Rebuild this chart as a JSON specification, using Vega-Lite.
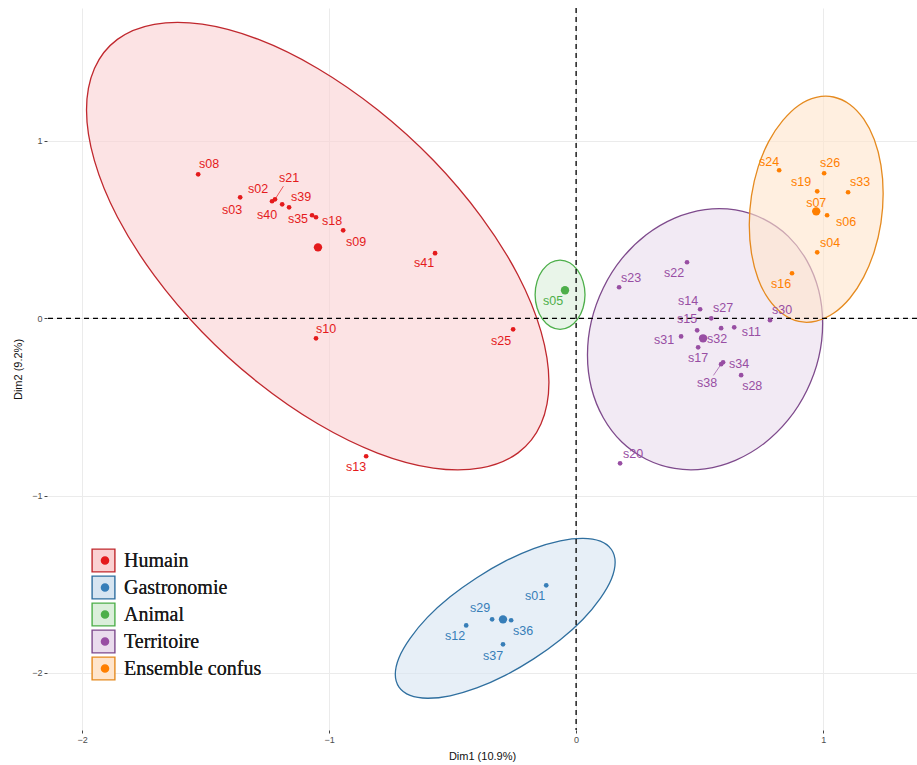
{
"$schema":"https://vega.github.io/schema/vega-lite/v6.json",
"width":870,"height":722,
"autosize":{"type":"none"},
"padding":{"left":47,"top":8,"right":0,"bottom":35},
"background":"#ffffff",
"config":{"view":{"stroke":null},"font":"Liberation Sans"},
"datasets":{
"ellipses":[
{"grp":"Humain","i":0,"x":-0.110,"y":-0.361},{"grp":"Humain","i":1,"x":-0.142,"y":-0.595},{"grp":"Humain","i":2,"x":-0.235,"y":-0.759},{"grp":"Humain","i":3,"x":-0.384,"y":-0.844},{"grp":"Humain","i":4,"x":-0.578,"y":-0.845},{"grp":"Humain","i":5,"x":-0.804,"y":-0.760},{"grp":"Humain","i":6,"x":-1.046,"y":-0.595},{"grp":"Humain","i":7,"x":-1.288,"y":-0.362},{"grp":"Humain","i":8,"x":-1.514,"y":-0.077},{"grp":"Humain","i":9,"x":-1.708,"y":0.242},{"grp":"Humain","i":10,"x":-1.857,"y":0.571},{"grp":"Humain","i":11,"x":-1.950,"y":0.889},{"grp":"Humain","i":12,"x":-1.982,"y":1.175},{"grp":"Humain","i":13,"x":-1.950,"y":1.409},{"grp":"Humain","i":14,"x":-1.857,"y":1.573},{"grp":"Humain","i":15,"x":-1.708,"y":1.658},{"grp":"Humain","i":16,"x":-1.514,"y":1.659},{"grp":"Humain","i":17,"x":-1.288,"y":1.574},{"grp":"Humain","i":18,"x":-1.046,"y":1.409},{"grp":"Humain","i":19,"x":-0.804,"y":1.176},{"grp":"Humain","i":20,"x":-0.578,"y":0.891},{"grp":"Humain","i":21,"x":-0.384,"y":0.572},{"grp":"Humain","i":22,"x":-0.235,"y":0.243},{"grp":"Humain","i":23,"x":-0.142,"y":-0.075},
{"grp":"Territoire","i":0,"x":0.998,"y":-0.029},{"grp":"Territoire","i":1,"x":0.982,"y":-0.222},{"grp":"Territoire","i":2,"x":0.934,"y":-0.407},{"grp":"Territoire","i":3,"x":0.859,"y":-0.572},{"grp":"Territoire","i":4,"x":0.760,"y":-0.707},{"grp":"Territoire","i":5,"x":0.645,"y":-0.801},{"grp":"Territoire","i":6,"x":0.522,"y":-0.849},{"grp":"Territoire","i":7,"x":0.399,"y":-0.847},{"grp":"Territoire","i":8,"x":0.284,"y":-0.795},{"grp":"Territoire","i":9,"x":0.185,"y":-0.698},{"grp":"Territoire","i":10,"x":0.110,"y":-0.561},{"grp":"Territoire","i":11,"x":0.062,"y":-0.393},{"grp":"Territoire","i":12,"x":0.046,"y":-0.207},{"grp":"Territoire","i":13,"x":0.062,"y":-0.015},{"grp":"Territoire","i":14,"x":0.110,"y":0.171},{"grp":"Territoire","i":15,"x":0.185,"y":0.336},{"grp":"Territoire","i":16,"x":0.284,"y":0.471},{"grp":"Territoire","i":17,"x":0.399,"y":0.565},{"grp":"Territoire","i":18,"x":0.522,"y":0.613},{"grp":"Territoire","i":19,"x":0.645,"y":0.611},{"grp":"Territoire","i":20,"x":0.760,"y":0.559},{"grp":"Territoire","i":21,"x":0.859,"y":0.462},{"grp":"Territoire","i":22,"x":0.934,"y":0.325},{"grp":"Territoire","i":23,"x":0.982,"y":0.157},
{"grp":"Ensemble confus","i":0,"x":1.243,"y":0.704},{"grp":"Ensemble confus","i":1,"x":1.234,"y":0.538},{"grp":"Ensemble confus","i":2,"x":1.207,"y":0.377},{"grp":"Ensemble confus","i":3,"x":1.164,"y":0.232},{"grp":"Ensemble confus","i":4,"x":1.108,"y":0.113},{"grp":"Ensemble confus","i":5,"x":1.042,"y":0.028},{"grp":"Ensemble confus","i":6,"x":0.972,"y":-0.016},{"grp":"Ensemble confus","i":7,"x":0.902,"y":-0.018},{"grp":"Ensemble confus","i":8,"x":0.837,"y":0.024},{"grp":"Ensemble confus","i":9,"x":0.780,"y":0.106},{"grp":"Ensemble confus","i":10,"x":0.737,"y":0.222},{"grp":"Ensemble confus","i":11,"x":0.710,"y":0.366},{"grp":"Ensemble confus","i":12,"x":0.701,"y":0.526},{"grp":"Ensemble confus","i":13,"x":0.710,"y":0.692},{"grp":"Ensemble confus","i":14,"x":0.737,"y":0.854},{"grp":"Ensemble confus","i":15,"x":0.780,"y":0.998},{"grp":"Ensemble confus","i":16,"x":0.837,"y":1.116},{"grp":"Ensemble confus","i":17,"x":0.902,"y":1.202},{"grp":"Ensemble confus","i":18,"x":0.972,"y":1.246},{"grp":"Ensemble confus","i":19,"x":1.042,"y":1.248},{"grp":"Ensemble confus","i":20,"x":1.108,"y":1.206},{"grp":"Ensemble confus","i":21,"x":1.164,"y":1.124},{"grp":"Ensemble confus","i":22,"x":1.207,"y":1.008},{"grp":"Ensemble confus","i":23,"x":1.234,"y":0.864},
{"grp":"Gastronomie","i":0,"x":0.158,"y":-1.376},{"grp":"Gastronomie","i":1,"x":0.143,"y":-1.470},{"grp":"Gastronomie","i":2,"x":0.098,"y":-1.579},{"grp":"Gastronomie","i":3,"x":0.028,"y":-1.697},{"grp":"Gastronomie","i":4,"x":-0.064,"y":-1.813},{"grp":"Gastronomie","i":5,"x":-0.172,"y":-1.921},{"grp":"Gastronomie","i":6,"x":-0.287,"y":-2.014},{"grp":"Gastronomie","i":7,"x":-0.402,"y":-2.085},{"grp":"Gastronomie","i":8,"x":-0.510,"y":-2.129},{"grp":"Gastronomie","i":9,"x":-0.602,"y":-2.143},{"grp":"Gastronomie","i":10,"x":-0.672,"y":-2.127},{"grp":"Gastronomie","i":11,"x":-0.717,"y":-2.080},{"grp":"Gastronomie","i":12,"x":-0.732,"y":-2.008},{"grp":"Gastronomie","i":13,"x":-0.717,"y":-1.914},{"grp":"Gastronomie","i":14,"x":-0.672,"y":-1.805},{"grp":"Gastronomie","i":15,"x":-0.602,"y":-1.687},{"grp":"Gastronomie","i":16,"x":-0.510,"y":-1.571},{"grp":"Gastronomie","i":17,"x":-0.402,"y":-1.463},{"grp":"Gastronomie","i":18,"x":-0.287,"y":-1.370},{"grp":"Gastronomie","i":19,"x":-0.172,"y":-1.299},{"grp":"Gastronomie","i":20,"x":-0.064,"y":-1.255},{"grp":"Gastronomie","i":21,"x":0.028,"y":-1.241},{"grp":"Gastronomie","i":22,"x":0.098,"y":-1.257},{"grp":"Gastronomie","i":23,"x":0.143,"y":-1.304},
{"grp":"Animal","i":0,"x":0.036,"y":0.133},{"grp":"Animal","i":1,"x":0.028,"y":0.058},{"grp":"Animal","i":2,"x":0.006,"y":-0.005},{"grp":"Animal","i":3,"x":-0.026,"y":-0.047},{"grp":"Animal","i":4,"x":-0.065,"y":-0.062},{"grp":"Animal","i":5,"x":-0.104,"y":-0.047},{"grp":"Animal","i":6,"x":-0.136,"y":-0.005},{"grp":"Animal","i":7,"x":-0.158,"y":0.058},{"grp":"Animal","i":8,"x":-0.166,"y":0.133},{"grp":"Animal","i":9,"x":-0.158,"y":0.208},{"grp":"Animal","i":10,"x":-0.136,"y":0.271},{"grp":"Animal","i":11,"x":-0.104,"y":0.313},{"grp":"Animal","i":12,"x":-0.065,"y":0.328},{"grp":"Animal","i":13,"x":-0.026,"y":0.313},{"grp":"Animal","i":14,"x":0.006,"y":0.271},{"grp":"Animal","i":15,"x":0.028,"y":0.208}
],
"pts":[
{"id":"s08","group":"Humain","kind":"ind","x":-1.530,"y":0.812,"lx":-1.486,"ly":0.869},
{"id":"s03","group":"Humain","kind":"ind","x":-1.360,"y":0.682,"lx":-1.393,"ly":0.609},
{"id":"s02","group":"Humain","kind":"ind","x":-1.231,"y":0.660,"lx":-1.287,"ly":0.728},
{"id":"s21","group":"Humain","kind":"ind","x":-1.219,"y":0.671,"lx":-1.162,"ly":0.790},
{"id":"s40","group":"Humain","kind":"ind","x":-1.190,"y":0.643,"lx":-1.251,"ly":0.581},
{"id":"s39","group":"Humain","kind":"ind","x":-1.162,"y":0.626,"lx":-1.113,"ly":0.682},
{"id":"s35","group":"Humain","kind":"ind","x":-1.069,"y":0.581,"lx":-1.126,"ly":0.558},
{"id":"s18","group":"Humain","kind":"ind","x":-1.053,"y":0.570,"lx":-0.988,"ly":0.547},
{"id":"s09","group":"Humain","kind":"ind","x":-0.943,"y":0.496,"lx":-0.891,"ly":0.429},
{"id":"s41","group":"Humain","kind":"ind","x":-0.571,"y":0.367,"lx":-0.615,"ly":0.310},
{"id":"s10","group":"Humain","kind":"ind","x":-1.053,"y":-0.113,"lx":-1.012,"ly":-0.062},
{"id":"s25","group":"Humain","kind":"ind","x":-0.255,"y":-0.062,"lx":-0.304,"ly":-0.130},
{"id":"s13","group":"Humain","kind":"ind","x":-0.850,"y":-0.778,"lx":-0.891,"ly":-0.840},
{"id":"Humain","group":"Humain","kind":"centroid","x":-1.045,"y":0.400},
{"id":"s05","group":"Animal","kind":"ind","x":-0.045,"y":0.158,"lx":-0.093,"ly":0.096},
{"id":"Animal","group":"Animal","kind":"centroid","x":-0.045,"y":0.158},
{"id":"s22","group":"Territoire","kind":"ind","x":0.449,"y":0.316,"lx":0.397,"ly":0.254},
{"id":"s23","group":"Territoire","kind":"ind","x":0.174,"y":0.175,"lx":0.223,"ly":0.226},
{"id":"s14","group":"Territoire","kind":"ind","x":0.502,"y":0.051,"lx":0.453,"ly":0.096},
{"id":"s27","group":"Territoire","kind":"ind","x":0.547,"y":0.000,"lx":0.595,"ly":0.056},
{"id":"s15","group":"Territoire","kind":"ind","x":0.490,"y":-0.068,"lx":0.449,"ly":-0.006},
{"id":"s31","group":"Territoire","kind":"ind","x":0.425,"y":-0.102,"lx":0.356,"ly":-0.124},
{"id":"s32","group":"Territoire","kind":"ind","x":0.587,"y":-0.056,"lx":0.571,"ly":-0.118},
{"id":"s11","group":"Territoire","kind":"ind","x":0.640,"y":-0.051,"lx":0.709,"ly":-0.079},
{"id":"s17","group":"Territoire","kind":"ind","x":0.494,"y":-0.164,"lx":0.494,"ly":-0.226},
{"id":"s34","group":"Territoire","kind":"ind","x":0.595,"y":-0.248,"lx":0.660,"ly":-0.259},
{"id":"s38","group":"Territoire","kind":"ind","x":0.587,"y":-0.259,"lx":0.530,"ly":-0.367},
{"id":"s28","group":"Territoire","kind":"ind","x":0.668,"y":-0.321,"lx":0.713,"ly":-0.384},
{"id":"s30","group":"Territoire","kind":"ind","x":0.785,"y":-0.011,"lx":0.834,"ly":0.045},
{"id":"s20","group":"Territoire","kind":"ind","x":0.178,"y":-0.818,"lx":0.231,"ly":-0.767},
{"id":"Territoire","group":"Territoire","kind":"centroid","x":0.514,"y":-0.113},
{"id":"s24","group":"Ensemble confus","kind":"ind","x":0.822,"y":0.835,"lx":0.781,"ly":0.880},
{"id":"s26","group":"Ensemble confus","kind":"ind","x":1.004,"y":0.818,"lx":1.028,"ly":0.874},
{"id":"s19","group":"Ensemble confus","kind":"ind","x":0.976,"y":0.716,"lx":0.911,"ly":0.767},
{"id":"s33","group":"Ensemble confus","kind":"ind","x":1.101,"y":0.711,"lx":1.150,"ly":0.767},
{"id":"s07","group":"Ensemble confus","kind":"ind","x":0.968,"y":0.609,"lx":0.972,"ly":0.649},
{"id":"s06","group":"Ensemble confus","kind":"ind","x":1.016,"y":0.581,"lx":1.093,"ly":0.541},
{"id":"s04","group":"Ensemble confus","kind":"ind","x":0.976,"y":0.372,"lx":1.028,"ly":0.423},
{"id":"s16","group":"Ensemble confus","kind":"ind","x":0.874,"y":0.254,"lx":0.830,"ly":0.192},
{"id":"Ensemble confus","group":"Ensemble confus","kind":"centroid","x":0.972,"y":0.603},
{"id":"s01","group":"Gastronomie","kind":"ind","x":-0.121,"y":-1.506,"lx":-0.166,"ly":-1.568},
{"id":"s29","group":"Gastronomie","kind":"ind","x":-0.340,"y":-1.698,"lx":-0.389,"ly":-1.636},
{"id":"s36","group":"Gastronomie","kind":"ind","x":-0.263,"y":-1.703,"lx":-0.215,"ly":-1.765},
{"id":"s12","group":"Gastronomie","kind":"ind","x":-0.445,"y":-1.732,"lx":-0.490,"ly":-1.794},
{"id":"s37","group":"Gastronomie","kind":"ind","x":-0.296,"y":-1.839,"lx":-0.336,"ly":-1.906},
{"id":"Gastronomie","group":"Gastronomie","kind":"centroid","x":-0.296,"y":-1.698}
],
"leaders":[
{"group":"Humain","x":-1.219,"y":0.671,"x2":-1.185,"y2":0.745},
{"group":"Territoire","x":0.587,"y":-0.259,"x2":0.556,"y2":-0.322}
]
},
"layer":[
{"data":{"name":"ellipses"},
 "mark":{"type":"line","interpolate":"cardinal-closed","fillOpacity":0.6,"strokeWidth":1.3},
 "encoding":{
  "x":{"field":"x","type":"quantitative","scale":{"domain":[-2.142,1.38],"nice":false,"zero":false},
   "axis":{"values":[-2,-1,0,1],"format":"d","grid":true,"gridColor":"#ebebeb","domain":false,"tickColor":"#444444","tickSize":3,"labelFontSize":9,"labelColor":"#4d4d4d","labelPadding":2,"title":"Dim1 (10.9%)","titleFontSize":11,"titleFontWeight":"normal","titleColor":"#111111","titlePadding":6}},
  "y":{"field":"y","type":"quantitative","scale":{"domain":[-2.322,1.75],"nice":false,"zero":false},
   "axis":{"values":[-2,-1,0,1],"format":"d","grid":true,"gridColor":"#ebebeb","domain":false,"tickColor":"#444444","tickSize":3,"labelFontSize":9,"labelColor":"#4d4d4d","labelPadding":2,"title":"Dim2 (9.2%)","titleFontSize":11,"titleFontWeight":"normal","titleColor":"#111111","titlePadding":8}},
  "order":{"field":"i","type":"quantitative"},
  "detail":{"field":"grp","type":"nominal"},
  "fill":{"field":"grp","type":"nominal","sort":["Humain","Gastronomie","Animal","Territoire","Ensemble confus"],
   "scale":{"range":["#FAD1D2","#D7E5F1","#DBEFDB","#EADCED","#FFE5CC"]},
   "legend":{"orient":"none","legendX":44,"legendY":539,"zindex":1,"title":null,"symbolType":"square","symbolSize":520,"symbolStrokeWidth":1.4,"symbolFillColor":"transparent","labelFont":"Liberation Serif","labelFontSize":20,"labelColor":"#1a1a1a","labelOffset":8,"clipHeight":27,"rowPadding":0,"padding":0}},
  "stroke":{"field":"grp","type":"nominal","sort":["Humain","Gastronomie","Animal","Territoire","Ensemble confus"],
   "scale":{"range":["#C0282E","#2F6F9F","#4DAF4A","#7E4A8C","#E58A1F"]},
   "legend":{"orient":"none","legendX":44,"legendY":539,"zindex":1,"title":null,"symbolType":"square","symbolSize":520,"symbolStrokeWidth":1.4,"symbolFillColor":"transparent","labelFont":"Liberation Serif","labelFontSize":20,"labelColor":"#1a1a1a","labelOffset":8,"clipHeight":27,"rowPadding":0,"padding":0}}
 }},
{"data":{"values":[{}]},"mark":{"type":"rule","strokeDash":[5,4],"color":"#000000","strokeWidth":1.3},"encoding":{"x":{"datum":0}}},
{"data":{"values":[{}]},"mark":{"type":"rule","strokeDash":[5,4],"color":"#000000","strokeWidth":1.3},"encoding":{"y":{"datum":0}}},
{"data":{"name":"pts"},"transform":[{"filter":"datum.kind == 'ind'"}],"mark":{"type":"circle","size":22,"opacity":1},
 "encoding":{"x":{"field":"x","type":"quantitative"},"y":{"field":"y","type":"quantitative"},
  "color":{"field":"group","type":"nominal","scale":{"domain":["Humain","Gastronomie","Animal","Territoire","Ensemble confus"],"range":["#E41A1C","#377EB8","#4DAF4A","#984EA3","#FF7F00"]},
   "legend":{"orient":"bottom-left","offset":48,"zindex":5,"title":null,"symbolType":"circle","symbolSize":50,"symbolOffset":0,"labelExpr":"''","labelFontSize":20,"clipHeight":27,"rowPadding":0,"padding":0}}}},
{"data":{"name":"pts"},"transform":[{"filter":"datum.kind == 'centroid'"}],"mark":{"type":"circle","size":70,"opacity":1},
 "encoding":{"x":{"field":"x","type":"quantitative"},"y":{"field":"y","type":"quantitative"},
  "color":{"field":"group","type":"nominal"}}},
{"data":{"name":"leaders"},"mark":{"type":"rule","strokeWidth":0.7},
 "encoding":{"x":{"field":"x","type":"quantitative"},"y":{"field":"y","type":"quantitative"},"x2":{"field":"x2"},"y2":{"field":"y2"},
  "color":{"field":"group","type":"nominal"}}},
{"data":{"name":"pts"},"transform":[{"filter":"datum.kind == 'ind'"}],"mark":{"type":"text","fontSize":12.5,"font":"Liberation Sans"},
 "encoding":{"x":{"field":"lx","type":"quantitative"},"y":{"field":"ly","type":"quantitative"},"text":{"field":"id"},
  "color":{"field":"group","type":"nominal"}}}
]
}
